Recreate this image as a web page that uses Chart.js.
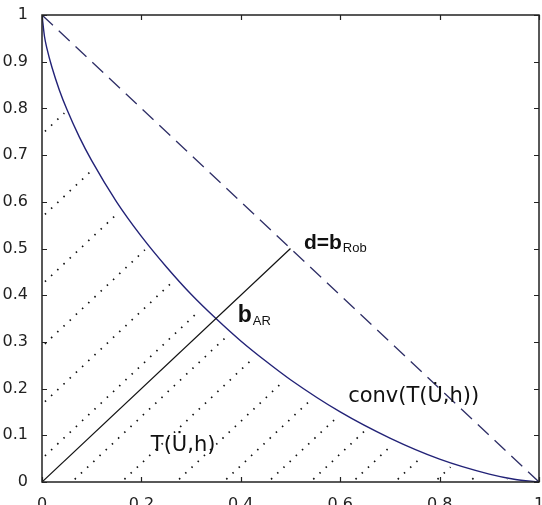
<!DOCTYPE html>
<html>
<head>
<meta charset="utf-8">
<title>conv(T(U,h))</title>
<script src="https://cdn.jsdelivr.net/npm/chart.js@4/dist/chart.umd.min.js"></script>
<style>
  html, body { margin: 0; padding: 0; background: #fff; }
  #wrap { width: 542px; height: 505px; }
</style>
</head>
<body>
<div id="wrap"><canvas id="grafico" width="542" height="505"></canvas></div>
<script>
// ─── Dados ───────────────────────────────────────────────────────────────────

// curva T(U,h)
const curvaX = [0, 0.005, 0.01, 0.02, 0.035, 0.05, 0.075, 0.1, 0.15, 0.2, 0.25, 0.3, 0.35, 0.4, 0.45, 0.5, 0.6, 0.7, 0.8, 0.9, 0.95, 1];
const curvaY = [1, 0.954, 0.928, 0.888, 0.839, 0.798, 0.739, 0.688, 0.600, 0.526, 0.461, 0.402, 0.35, 0.302, 0.259, 0.219, 0.150, 0.094, 0.049, 0.017, 0.006, 0];

// diagonal tracejada conv(T(U,h)) e segmento até d=b_Rob
const tracejadaX = [0, 1];
const tracejadaY = [1, 0];
const segmentoX = [0, 0.5];
const segmentoY = [0, 0.5];

// hachuras pontilhadas (início no eixo, fim junto à curva)
const hachuraIniX = [0, 0, 0, 0, 0, 0, 0.06, 0.16, 0.27, 0.365, 0.455, 0.54, 0.625, 0.71, 0.79, 0.86, 0.93];
const hachuraIniY = [0.745, 0.567, 0.423, 0.29, 0.166, 0.05, 0, 0, 0, 0, 0, 0, 0, 0, 0, 0, 0];
const hachuraFimX = [0.045, 0.098, 0.154, 0.207, 0.262, 0.317, 0.372, 0.427, 0.487, 0.541, 0.594, 0.649, 0.705, 0.763, 0.822, 0.876, 0.936];
const hachuraFimY = [0.79, 0.665, 0.577, 0.497, 0.428, 0.367, 0.312, 0.267, 0.217, 0.176, 0.139, 0.109, 0.08, 0.053, 0.032, 0.016, 0.006];

// eixos
const ticksX = ['0', '0.2', '0.4', '0.6', '0.8', '1'];
const ticksY = ['0', '0.1', '0.2', '0.3', '0.4', '0.5', '0.6', '0.7', '0.8', '0.9', '1'];

// rótulos no gráfico (texto, subscrito, âncora em coordenadas de dados)
const rotuloTexto = ['d=b', 'b', 'conv(T(U\u0307,h))', 'T(U\u0307,h)'];
const rotuloSub = ['Rob', 'AR', '', ''];
const rotuloX = [0.527, 0.394, 0.616, 0.219];
const rotuloY = [0.50, 0.342, 0.172, 0.066];
const rotuloFonte = ['bold 21px "Liberation Sans"', 'bold 23px "Liberation Sans"', '21px "DejaVu Sans"', '21px "DejaVu Sans"'];

// ─── Plugins ─────────────────────────────────────────────────────────────────

const pts = (xs, ys) => xs.map((x, i) => ({ x, y: ys[i] }));

const moldura = {
  id: 'moldura',
  afterDatasetsDraw(chart) {
    const { ctx, chartArea: { left, right, top, bottom }, scales: { x, y } } = chart;
    ctx.save();
    ctx.strokeStyle = '#222';
    ctx.lineWidth = 1.5;
    ctx.strokeRect(left, top, right - left, bottom - top);
    ctx.beginPath();
    const len = 5;
    x.ticks.forEach(t => {
      const px = Math.round(x.getPixelForValue(t.value)) + 0.5;
      ctx.moveTo(px, bottom); ctx.lineTo(px, bottom - len);
      ctx.moveTo(px, top); ctx.lineTo(px, top + len);
    });
    y.ticks.forEach(t => {
      const py = Math.round(y.getPixelForValue(t.value)) + 0.5;
      ctx.moveTo(left, py); ctx.lineTo(left + len, py);
      ctx.moveTo(right, py); ctx.lineTo(right - len, py);
    });
    ctx.lineWidth = 1.2;
    ctx.stroke();
    ctx.restore();
  },
};

const rotulos = {
  id: 'rotulos',
  afterDatasetsDraw(chart) {
    const { ctx, scales: { x, y } } = chart;
    ctx.save();
    ctx.fillStyle = '#111';
    ctx.textBaseline = 'alphabetic';
    ctx.textAlign = 'left';
    rotuloTexto.forEach((txt, i) => {
      const px = x.getPixelForValue(rotuloX[i]);
      const py = y.getPixelForValue(rotuloY[i]);
      ctx.font = rotuloFonte[i];
      ctx.fillText(txt, px, py);
      if (rotuloSub[i]) {
        const w = ctx.measureText(txt).width;
        ctx.font = '13px "Liberation Sans"';
        ctx.fillText(rotuloSub[i], px + w + 1, py + 3);
      }
    });
    ctx.restore();
  },
};

// ─── Gráfico ─────────────────────────────────────────────────────────────────

const hachuras = hachuraIniX.map((x0, i) => ({
  data: [{ x: x0, y: hachuraIniY[i] }, { x: hachuraFimX[i], y: hachuraFimY[i] }],
  borderColor: '#111',
  borderWidth: 1.7,
  borderDash: [1.5, 7],
  borderDashOffset: -4,
  pointRadius: 0,
  showLine: true,
}));

new Chart(document.getElementById('grafico'), {
  type: 'scatter',
  plugins: [moldura, rotulos],
  data: {
    datasets: [
      ...hachuras,
      {
        data: pts(segmentoX, segmentoY),
        borderColor: '#111',
        borderWidth: 1.2,
        pointRadius: 0,
        showLine: true,
      },
      {
        data: pts(tracejadaX, tracejadaY),
        borderColor: '#2e2e66',
        borderWidth: 1.3,
        borderDash: [15, 8],
        pointRadius: 0,
        showLine: true,
      },
      {
        data: pts(curvaX, curvaY),
        borderColor: '#222277',
        borderWidth: 1.4,
        cubicInterpolationMode: 'monotone',
        pointRadius: 0,
        showLine: true,
      },
    ],
  },
  options: {
    responsive: false,
    animation: false,
    events: [],
    layout: { padding: { top: 15, right: 3, left: 0, bottom: 0 } },
    plugins: { legend: { display: false }, tooltip: { enabled: false } },
    scales: {
      x: {
        type: 'linear', min: 0, max: 1,
        afterFit: s => { s.height = 23; s.paddingLeft = 0; s.paddingRight = 0; },
        grid: { display: false },
        border: { display: false },
        ticks: {
          stepSize: 0.2, padding: 5, color: '#222',
          font: { family: 'DejaVu Sans', size: 16 },
          callback: (v, i) => ticksX[i],
        },
      },
      y: {
        type: 'linear', min: 0, max: 1,
        afterFit: s => { s.width = 42; s.paddingTop = 0; s.paddingBottom = 0; },
        grid: { display: false },
        border: { display: false },
        ticks: {
          stepSize: 0.1, padding: 6, color: '#222',
          font: { family: 'DejaVu Sans', size: 16 },
          callback: (v, i) => ticksY[i],
        },
      },
    },
  },
});
</script>
</body>
</html>
